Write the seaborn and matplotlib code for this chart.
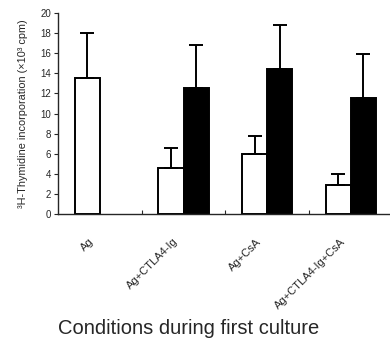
import numpy as np
import pandas as pd
import matplotlib
matplotlib.use("Agg")
import matplotlib.pyplot as plt
import matplotlib.transforms as mtransforms
import seaborn as sns

# values
conditions = ["Ag", "Ag+CTLA4-Ig", "Ag+CsA", "Ag+CTLA4-Ig+CsA"]
open_means = [13.5, 4.6, 6.0, 2.9]
open_tops = [18.0, 6.6, 7.8, 4.0]
filled_means = [np.nan, 12.5, 14.4, 11.5]
filled_tops = [np.nan, 16.8, 18.8, 15.9]
series = ["open", "filled"]

df = pd.DataFrame({
    "condition": conditions * 2,
    "series": ["open"] * 4 + ["filled"] * 4,
    "value": open_means + filled_means,
    "top": open_tops + filled_tops,
})

sns.set_theme(style="ticks")
plt.rcParams["font.family"] = ["Liberation Sans", "DejaVu Sans"]

fig = plt.figure(figsize=(3.9, 3.42), dpi=100)
ax = fig.add_axes([0.149, 0.374, 0.849, 0.588])

bar_w = 0.6
sns.barplot(data=df, x="condition", y="value", hue="series", order=conditions,
            hue_order=series, palette={"open": "white", "filled": "black"},
            width=bar_w, edgecolor="black", linewidth=1.4, errorbar=None,
            legend=False, ax=ax)

# upper-only error bars at the dodged bar centres
offsets = {"open": -bar_w / 4, "filled": bar_w / 4}
for _, row in df.dropna(subset=["value"]).iterrows():
    xc = conditions.index(row["condition"]) + offsets[row["series"]]
    ax.errorbar(xc, row["value"], yerr=[[0], [row["top"] - row["value"]]],
                fmt="none", ecolor="black", elinewidth=1.4, capsize=5,
                capthick=1.4)

ax.set_xlim(-0.5, 3.46)
ax.set_ylim(0, 20)
ax.set_yticks(range(0, 21, 2))
ax.set_xticks(range(len(conditions)))
ax.set_xticks([0.5, 1.5, 2.5], minor=True)
ax.tick_params(axis="x", which="major", length=0, pad=14)
ax.tick_params(axis="x", which="minor", direction="in", length=3, width=0.8)
ax.tick_params(axis="y", labelsize=7, length=3, width=0.8, pad=2)
ax.set_xticklabels(conditions, rotation=45, ha="right", fontsize=8,
                   rotation_mode="anchor")
shift = mtransforms.ScaledTranslation(-11 / 100, -3 / 100, fig.dpi_scale_trans)
for lbl in ax.get_xticklabels():
    lbl.set_transform(lbl.get_transform() + shift)
ax.set_xlabel("")
ax.set_ylabel("³H-Thymidine incorporation (×10³ cpm)", fontsize=7.8, labelpad=9)
sns.despine(ax=ax)
for sp in ["left", "bottom"]:
    ax.spines[sp].set_linewidth(1.0)

fig.text(189 / 390, 1 - 329 / 342, "Conditions during first culture",
         fontsize=14.5, ha="center", va="center")

fig.savefig("out.png", dpi=100)
plt.close(fig)
